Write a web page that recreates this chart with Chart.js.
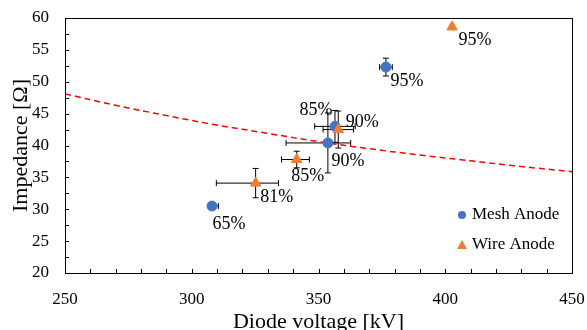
<!DOCTYPE html>
<html>
<head>
<meta charset="utf-8">
<script src="https://cdn.jsdelivr.net/npm/chart.js@4/dist/chart.umd.min.js"></script>
<style>
  html, body { margin: 0; padding: 0; background: #fff; }
  #wrap { width: 587px; height: 330px; }
</style>
</head>
<body>
<div id="wrap"><canvas id="chart"></canvas></div>
<script>
// mesh anode points (diode voltage kV, impedance ohm)
const meshX = [308.0, 356.5, 353.7, 376.6]
const meshY = [30.5, 43.0, 40.4, 52.3]
const meshXErrMinus = [0, 8, 16.5, 2.5]
const meshXErrPlus = [2.5, 8, 9, 2.5]
const meshYErr = [0, 2.5, 4.7, 1.4]
const meshLabels = ['65%', '85%', '90%', '95%']

// wire anode points
const wireX = [325.2, 341.4, 357.8, 402.7]
const wireY = [34.1, 37.8, 42.5, 58.6]
const wireXErrMinus = [15.5, 6, 6, 0]
const wireXErrPlus = [9, 5, 6, 0]
const wireYErr = [2.3, 1.3, 2.9, 0]
const wireLabels = ['81%', '85%', '90%', '95%']

// red dashed fit curve
const fitX = [250, 270, 290, 310, 330, 350, 370, 390, 410, 430, 450]
const fitY = [48.1, 46.3, 44.7, 43.2, 41.9, 40.6, 39.5, 38.5, 37.6, 36.7, 35.9]

const xTicks = [250, 300, 350, 400, 450]
const yTicks = [20, 25, 30, 35, 40, 45, 50, 55, 60]

const BLUE = '#4472C4'
const ORANGE = '#ED7D31'
const FONT = 'Liberation Serif'

// where each percent label sits relative to its point (px)
const meshLabelOffsets = [[17, 18], [-19, -16], [20, 18], [21, 14]]
const wireLabelOffsets = [[21, 14], [11, 17], [24, -7], [23, 13]]

const toPoints = (xs, ys) => xs.map((x, i) => ({ x: x, y: ys[i] }))

const errorBars = {
  id: 'errorBars',
  beforeDatasetsDraw(chart) {
    const ctx = chart.ctx
    const xs = chart.scales.x
    const ys = chart.scales.y
    const sets = [
      [meshX, meshY, meshXErrMinus, meshXErrPlus, meshYErr],
      [wireX, wireY, wireXErrMinus, wireXErrPlus, wireYErr]
    ]
    ctx.save()
    ctx.strokeStyle = '#000'
    ctx.lineWidth = 1
    sets.forEach(s => {
      s[0].forEach((xv, i) => {
        const px = xs.getPixelForValue(xv)
        const py = ys.getPixelForValue(s[1][i])
        ctx.beginPath()
        if (s[2][i] || s[3][i]) {
          const l = xs.getPixelForValue(xv - s[2][i])
          const r = xs.getPixelForValue(xv + s[3][i])
          ctx.moveTo(l, py); ctx.lineTo(r, py)
          ctx.moveTo(l, py - 3); ctx.lineTo(l, py + 3)
          ctx.moveTo(r, py - 3); ctx.lineTo(r, py + 3)
        }
        if (s[4][i]) {
          const t = ys.getPixelForValue(s[1][i] + s[4][i])
          const b = ys.getPixelForValue(s[1][i] - s[4][i])
          ctx.moveTo(px, t); ctx.lineTo(px, b)
          ctx.moveTo(px - 3, t); ctx.lineTo(px + 3, t)
          ctx.moveTo(px - 3, b); ctx.lineTo(px + 3, b)
        }
        ctx.stroke()
      })
    })
    ctx.restore()
  }
}

const extras = {
  id: 'extras',
  afterDraw(chart) {
    const ctx = chart.ctx
    const a = chart.chartArea
    const xs = chart.scales.x
    const ys = chart.scales.y
    ctx.save()
    // frame + inward ticks
    ctx.strokeStyle = '#000'
    ctx.lineWidth = 1
    ctx.strokeRect(Math.round(a.left) + 0.5, Math.round(a.top) + 0.5, Math.round(a.right - a.left), Math.round(a.bottom - a.top))
    ctx.beginPath()
    for (let v = 260; v < 450; v += 10) {
      const px = Math.round(xs.getPixelForValue(v)) + 0.5
      ctx.moveTo(px, a.bottom); ctx.lineTo(px, a.bottom - 4)
    }
    for (let v = 22.5; v < 60; v += 2.5) {
      const py = Math.round(ys.getPixelForValue(v)) + 0.5
      ctx.moveTo(a.left, py); ctx.lineTo(a.left + 4, py)
    }
    ctx.stroke()

    // percent labels
    ctx.fillStyle = '#000'
    ctx.font = '18px "' + FONT + '"'
    ctx.textAlign = 'center'
    ctx.textBaseline = 'middle'
    meshLabels.forEach((t, i) => {
      const o = meshLabelOffsets[i]
      ctx.fillText(t, xs.getPixelForValue(meshX[i]) + o[0], ys.getPixelForValue(meshY[i]) + o[1])
    })
    wireLabels.forEach((t, i) => {
      const o = wireLabelOffsets[i]
      ctx.fillText(t, xs.getPixelForValue(wireX[i]) + o[0], ys.getPixelForValue(wireY[i]) + o[1])
    })

    // legend in the lower right of the plot
    ctx.font = '17px "' + FONT + '"'
    ctx.textAlign = 'left'
    ctx.fillStyle = BLUE
    ctx.beginPath()
    ctx.arc(462, 215, 4, 0, Math.PI * 2)
    ctx.fill()
    ctx.fillStyle = ORANGE
    ctx.beginPath()
    ctx.moveTo(462, 240); ctx.lineTo(467, 249); ctx.lineTo(457, 249)
    ctx.closePath()
    ctx.fill()
    ctx.fillStyle = '#000'
    ctx.fillText('Mesh Anode', 472, 215)
    ctx.fillText('Wire Anode', 472, 245)
    ctx.restore()
  }
}

const chart = new Chart(document.getElementById('chart'), {
  type: 'scatter',
  data: {
    datasets: [
      {
        label: 'Fit',
        type: 'line',
        data: toPoints(fitX, fitY),
        borderColor: '#FF0000',
        borderWidth: 1.5,
        borderDash: [6, 4],
        pointRadius: 0,
        tension: 0.4,
        fill: false,
        order: 3
      },
      {
        label: 'Mesh Anode',
        data: toPoints(meshX, meshY),
        backgroundColor: BLUE,
        borderColor: BLUE,
        pointStyle: 'circle',
        pointRadius: 5,
        order: 2
      },
      {
        label: 'Wire Anode',
        data: toPoints(wireX, wireY),
        backgroundColor: ORANGE,
        borderColor: ORANGE,
        pointStyle: 'triangle',
        pointRadius: 6,
        order: 1
      }
    ]
  },
  options: {
    responsive: true,
    maintainAspectRatio: false,
    animation: false,
    layout: { padding: { top: 18, right: 15, left: 0, bottom: 0 } },
    plugins: {
      legend: { display: false },
      tooltip: { enabled: false }
    },
    scales: {
      x: {
        type: 'linear',
        min: 250,
        max: 450,
        afterBuildTicks: s => { s.ticks = xTicks.map(v => ({ value: v })) },
        afterFit: s => { s.height = 57; s.paddingLeft = 0; s.paddingRight = 0 },
        grid: { display: false },
        border: { display: false },
        ticks: { color: '#000', padding: 8, maxRotation: 0, font: { family: FONT, size: 17 } },
        title: { display: true, text: 'Diode voltage [kV]', color: '#000', padding: { top: 0, bottom: -5 }, font: { family: FONT, size: 22 } }
      },
      y: {
        type: 'linear',
        min: 20,
        max: 60,
        afterBuildTicks: s => { s.ticks = yTicks.map(v => ({ value: v })) },
        afterFit: s => { s.width = 65; s.paddingTop = 0; s.paddingBottom = 0 },
        grid: { display: false },
        border: { display: false },
        ticks: { color: '#000', padding: 8, font: { family: FONT, size: 17 } },
        title: { display: true, text: 'Impedance [Ω]', color: '#000', padding: { top: 8, bottom: 0 }, font: { family: FONT, size: 22 } }
      }
    }
  },
  plugins: [errorBars, extras]
})
</script>
</body>
</html>
